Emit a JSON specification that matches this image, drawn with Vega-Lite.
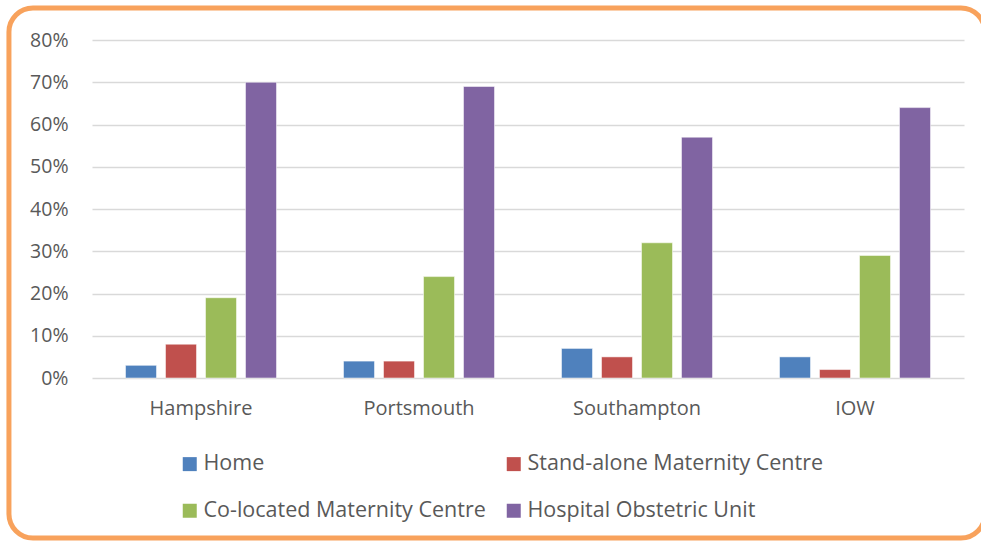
{
  "$schema": "https://vega.github.io/schema/vega-lite/v6.json",
  "width": 872,
  "height": 338,
  "autosize": "none",
  "padding": {"left": 92, "top": 40, "right": 17, "bottom": 164},
  "background": "white",
  "config": {
    "view": {"stroke": null},
    "font": "Open Sans"
  },
  "layer": [
    {
      "data": {
        "values": [
          {"region": "Hampshire", "type": "Home", "pct": 0.03},
          {"region": "Hampshire", "type": "Stand-alone Maternity Centre", "pct": 0.08},
          {"region": "Hampshire", "type": "Co-located Maternity Centre", "pct": 0.19},
          {"region": "Hampshire", "type": "Hospital Obstetric Unit", "pct": 0.70},
          {"region": "Portsmouth", "type": "Home", "pct": 0.04},
          {"region": "Portsmouth", "type": "Stand-alone Maternity Centre", "pct": 0.04},
          {"region": "Portsmouth", "type": "Co-located Maternity Centre", "pct": 0.24},
          {"region": "Portsmouth", "type": "Hospital Obstetric Unit", "pct": 0.69},
          {"region": "Southampton", "type": "Home", "pct": 0.07},
          {"region": "Southampton", "type": "Stand-alone Maternity Centre", "pct": 0.05},
          {"region": "Southampton", "type": "Co-located Maternity Centre", "pct": 0.32},
          {"region": "Southampton", "type": "Hospital Obstetric Unit", "pct": 0.57},
          {"region": "IOW", "type": "Home", "pct": 0.05},
          {"region": "IOW", "type": "Stand-alone Maternity Centre", "pct": 0.02},
          {"region": "IOW", "type": "Co-located Maternity Centre", "pct": 0.29},
          {"region": "IOW", "type": "Hospital Obstetric Unit", "pct": 0.64}
        ]
      },
      "mark": {"type": "bar", "stroke": "white", "strokeOpacity": 0.5, "strokeWidth": 1},
      "encoding": {
        "x": {
          "field": "region",
          "type": "nominal",
          "sort": ["Hampshire", "Portsmouth", "Southampton", "IOW"],
          "scale": {"paddingInner": 0, "paddingOuter": 0},
          "axis": {
            "title": null,
            "domain": false,
            "ticks": false,
            "labelAngle": 0,
            "labelFontSize": 20,
            "labelColor": "#595959",
            "labelPadding": 20,
            "labelFont": "Open Sans"
          }
        },
        "xOffset": {
          "field": "type",
          "type": "nominal",
          "sort": ["Home", "Stand-alone Maternity Centre", "Co-located Maternity Centre", "Hospital Obstetric Unit"],
          "scale": {"paddingInner": 0.225, "paddingOuter": 0.8375}
        },
        "y": {
          "field": "pct",
          "type": "quantitative",
          "scale": {"domain": [0, 0.8], "nice": false},
          "axis": {
            "title": null,
            "format": ".0%",
            "values": [0, 0.1, 0.2, 0.3, 0.4, 0.5, 0.6, 0.7, 0.8],
            "domain": false,
            "ticks": false,
            "labelFontSize": 19.5,
            "labelColor": "#595959",
            "labelPadding": 24,
            "labelFont": "Open Sans",
            "gridColor": "#D9D9D9",
            "gridWidth": 1.5
          }
        },
        "color": {
          "field": "type",
          "type": "nominal",
          "sort": ["Home", "Stand-alone Maternity Centre", "Co-located Maternity Centre", "Hospital Obstetric Unit"],
          "scale": {
            "domain": ["Home", "Stand-alone Maternity Centre", "Co-located Maternity Centre", "Hospital Obstetric Unit"],
            "range": ["#4F81BD", "#C0504D", "#9BBB59", "#8064A2"]
          },
          "legend": {
            "title": null,
            "orient": "none",
            "legendX": 87,
            "legendY": 413,
            "columns": 2,
            "direction": "horizontal",
            "symbolType": "square",
            "symbolSize": 196,
            "symbolStrokeWidth": 0,
            "labelFontSize": 21.5,
            "labelFont": "Open Sans",
            "labelColor": "#595959",
            "labelOffset": 3,
            "labelLimit": 400,
            "columnPadding": 17,
            "rowPadding": 24
          }
        }
      }
    },
    {
      "data": {"values": [{"frame": "border"}]},
      "mark": {"type": "rect", "filled": false, "stroke": "#F8A25C", "strokeWidth": 5, "cornerRadius": 24},
      "encoding": {
        "x": {"datum": "Hampshire", "bandPosition": -0.381},
        "x2": {"datum": "IOW", "bandPosition": 1.096},
        "y": {"datum": 0.8757},
        "y2": {"datum": -0.3787}
      }
    }
  ]
}
